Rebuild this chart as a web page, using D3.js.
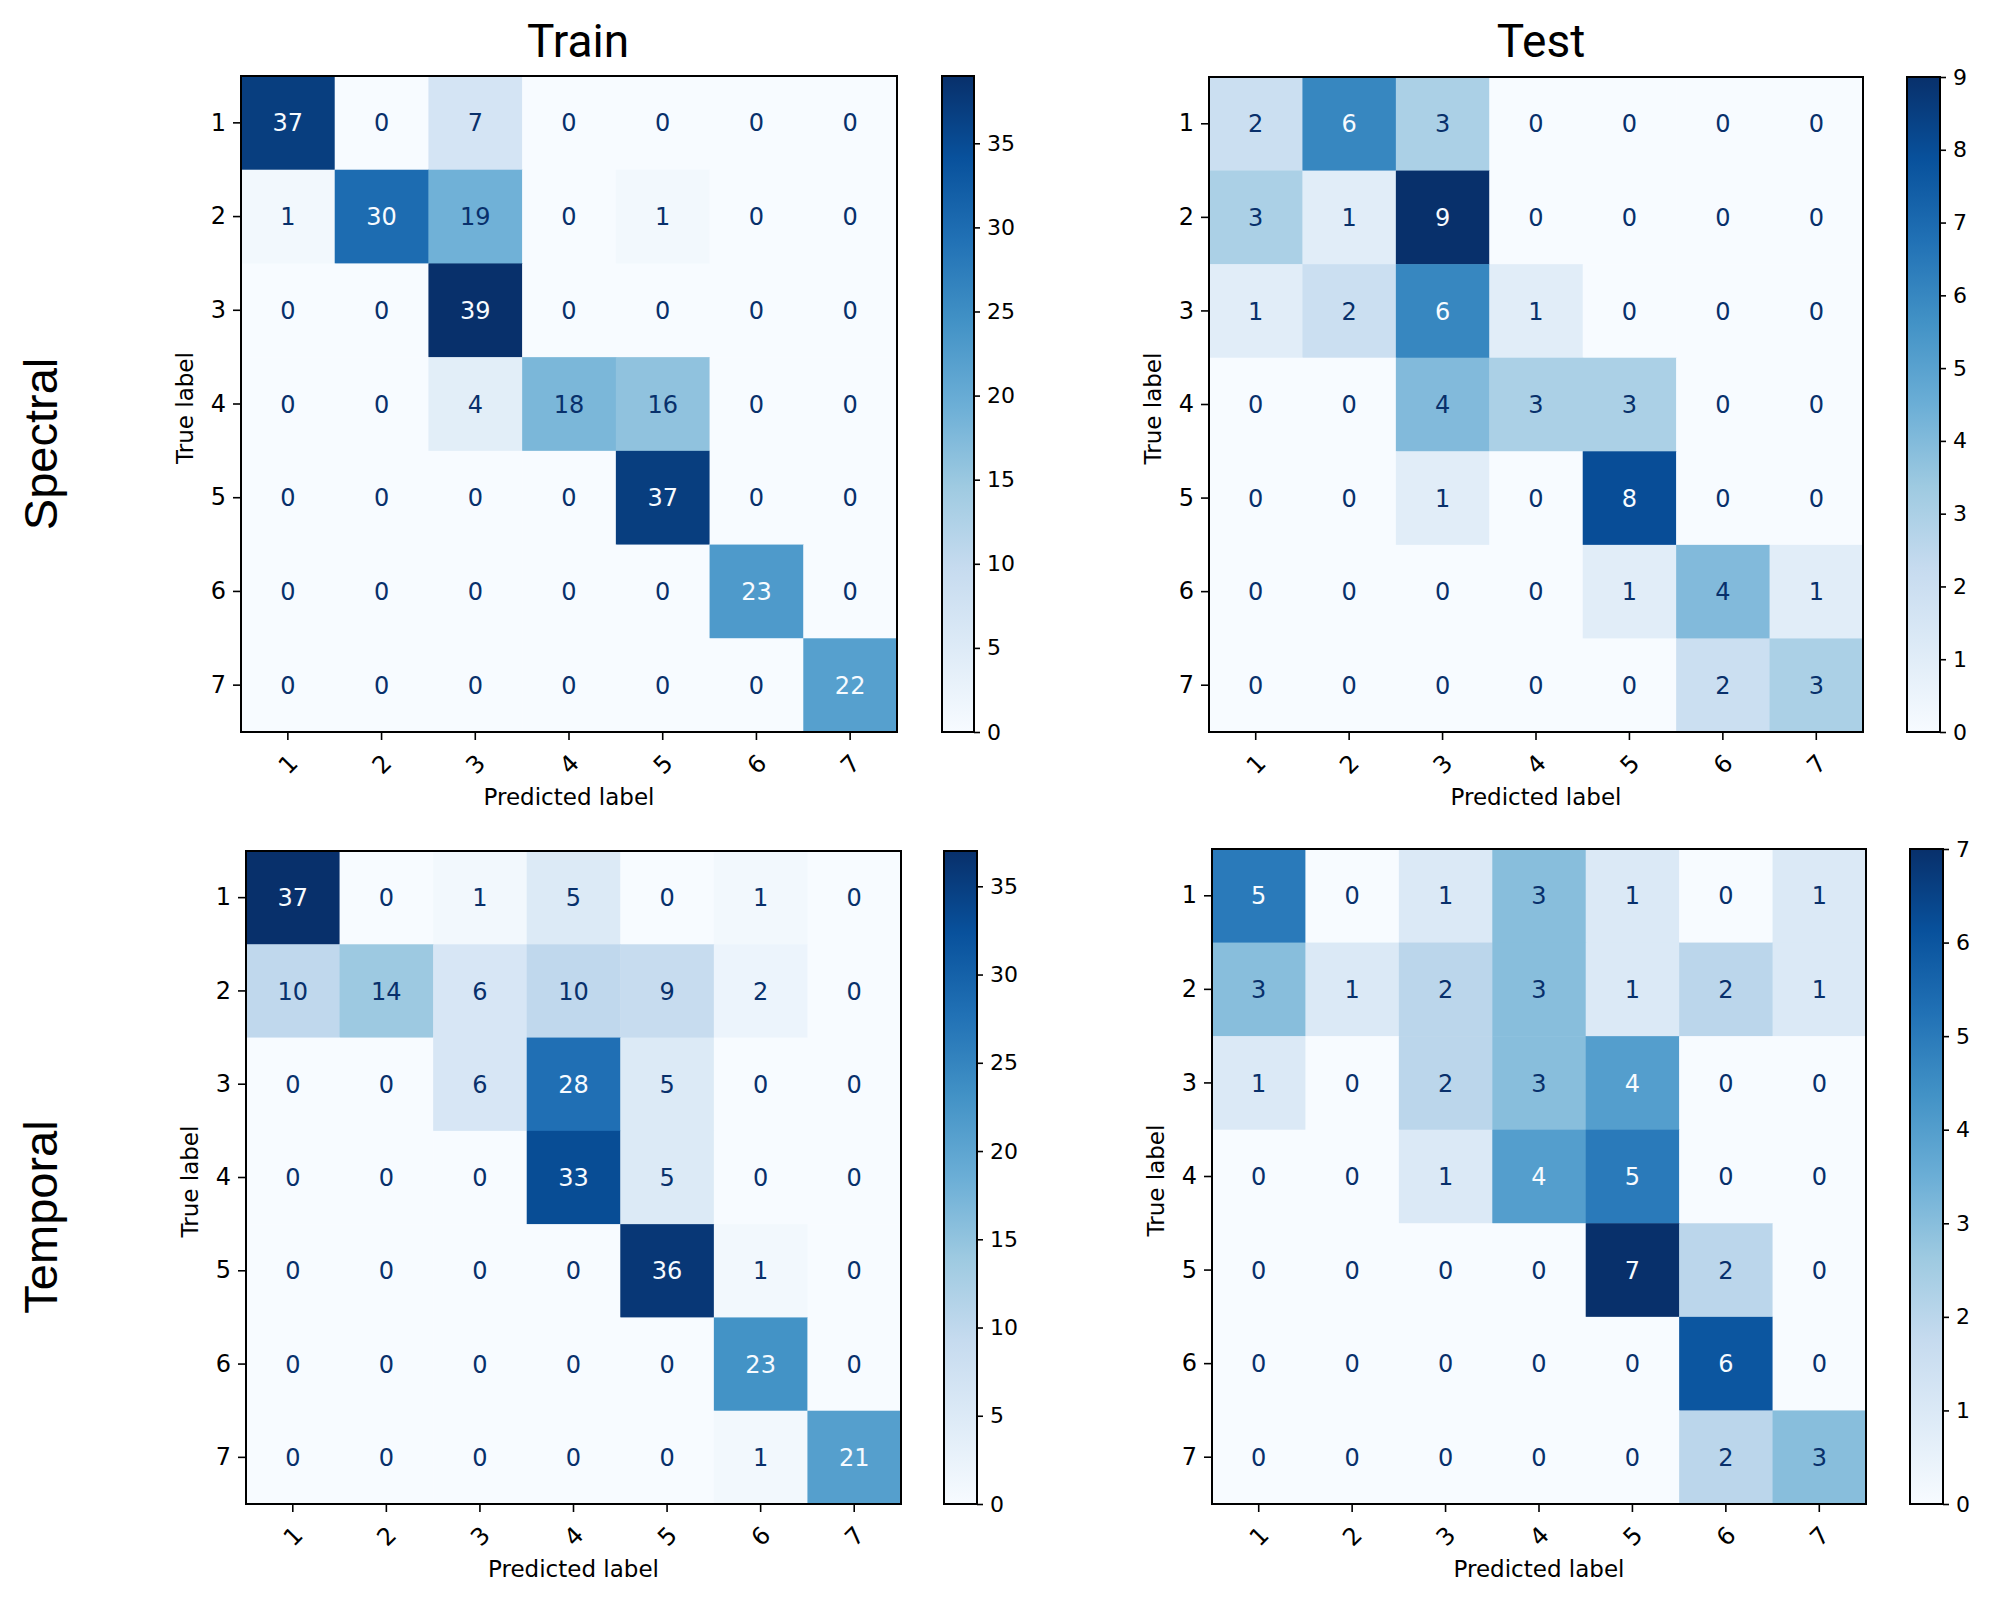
<!DOCTYPE html>
<html>
<head>
<meta charset="utf-8">
<script src="https://cdn.jsdelivr.net/npm/d3@7"></script>
<style>
  body { margin: 0; background: #fff; }
  svg { display: block; }
  .tick text { font-family: "DejaVu Sans", sans-serif; fill: #000; }
  .tick line { stroke: #000; stroke-width: 1.6; }
</style>
</head>
<body>
<svg id="chart" width="2000" height="1604"></svg>
<script>
// class labels shared by every matrix
var classLabels = ["1", "2", "3", "4", "5", "6", "7"];

// confusion matrices, rows = true label, columns = predicted label
var trainSpectral = [
  [37, 0, 7, 0, 0, 0, 0],
  [1, 30, 19, 0, 1, 0, 0],
  [0, 0, 39, 0, 0, 0, 0],
  [0, 0, 4, 18, 16, 0, 0],
  [0, 0, 0, 0, 37, 0, 0],
  [0, 0, 0, 0, 0, 23, 0],
  [0, 0, 0, 0, 0, 0, 22]
];
var testSpectral = [
  [2, 6, 3, 0, 0, 0, 0],
  [3, 1, 9, 0, 0, 0, 0],
  [1, 2, 6, 1, 0, 0, 0],
  [0, 0, 4, 3, 3, 0, 0],
  [0, 0, 1, 0, 8, 0, 0],
  [0, 0, 0, 0, 1, 4, 1],
  [0, 0, 0, 0, 0, 2, 3]
];
var trainTemporal = [
  [37, 0, 1, 5, 0, 1, 0],
  [10, 14, 6, 10, 9, 2, 0],
  [0, 0, 6, 28, 5, 0, 0],
  [0, 0, 0, 33, 5, 0, 0],
  [0, 0, 0, 0, 36, 1, 0],
  [0, 0, 0, 0, 0, 23, 0],
  [0, 0, 0, 0, 0, 1, 21]
];
var testTemporal = [
  [5, 0, 1, 3, 1, 0, 1],
  [3, 1, 2, 3, 1, 2, 1],
  [1, 0, 2, 3, 4, 0, 0],
  [0, 0, 1, 4, 5, 0, 0],
  [0, 0, 0, 0, 7, 2, 0],
  [0, 0, 0, 0, 0, 6, 0],
  [0, 0, 0, 0, 0, 2, 3]
];

// colorbar tick labels
var trainSpectralTicks = [0, 5, 10, 15, 20, 25, 30, 35];
var testSpectralTicks = [0, 1, 2, 3, 4, 5, 6, 7, 8, 9];
var trainTemporalTicks = [0, 5, 10, 15, 20, 25, 30, 35];
var testTemporalTicks = [0, 1, 2, 3, 4, 5, 6, 7];

var columnTitles = ["Train", "Test"];
var rowTitles = ["Spectral", "Temporal"];

var svg = d3.select("#chart");

// matplotlib "Blues" = linear ramp through the 9 colorbrewer stops
var blues = d3.schemeBlues[9];
var bluesRamp = d3.scaleLinear()
    .domain(d3.range(9).map(function (i) { return i / 8; }))
    .range(blues);

var panels = [
  {data: trainSpectral, ticks: trainSpectralTicks, x0: 241, x1: 897, y0: 76, y1: 732, cb: 942, cbw: 32},
  {data: testSpectral, ticks: testSpectralTicks, x0: 1209, x1: 1863, y0: 77, y1: 732, cb: 1907, cbw: 33},
  {data: trainTemporal, ticks: trainTemporalTicks, x0: 246, x1: 901, y0: 851, y1: 1504, cb: 944, cbw: 33},
  {data: testTemporal, ticks: testTemporalTicks, x0: 1212, x1: 1866, y0: 849, y1: 1504, cb: 1910, cbw: 33}
];

panels.forEach(function (p, pi) {
  var flat = d3.merge(p.data);
  var vmax = d3.max(flat), vmin = d3.min(flat);
  var thresh = (vmax + vmin) / 2;
  var color = function (v) { return bluesRamp((v - vmin) / (vmax - vmin)); };

  var x = d3.scaleBand().domain(classLabels).range([p.x0, p.x1]);
  var y = d3.scaleBand().domain(classLabels).range([p.y0, p.y1]);

  var cells = [];
  p.data.forEach(function (row, r) {
    row.forEach(function (v, c) {
      cells.push({t: classLabels[r], p: classLabels[c], v: v});
    });
  });

  var g = svg.append("g").attr("class", "panel");

  g.selectAll("rect.cell")
    .data(cells)
    .enter().append("rect")
    .attr("class", "cell")
    .attr("x", function (d) { return x(d.p); })
    .attr("y", function (d) { return y(d.t); })
    .attr("width", x.bandwidth() + 0.5)
    .attr("height", y.bandwidth() + 0.5)
    .attr("fill", function (d) { return color(d.v); });

  g.selectAll("text.val")
    .data(cells)
    .enter().append("text")
    .attr("class", "val")
    .attr("x", function (d) { return x(d.p) + x.bandwidth() / 2; })
    .attr("y", function (d) { return y(d.t) + y.bandwidth() / 2; })
    .attr("dy", "0.36em")
    .attr("text-anchor", "middle")
    .style("font-family", "DejaVu Sans, sans-serif")
    .style("font-size", "24px")
    .attr("fill", function (d) { return d.v > thresh ? blues[0] : blues[8]; })
    .text(function (d) { return d.v; });

  // frame
  g.append("rect")
    .attr("x", p.x0).attr("y", p.y0)
    .attr("width", p.x1 - p.x0).attr("height", p.y1 - p.y0)
    .attr("fill", "none").attr("stroke", "#000").attr("stroke-width", 2);

  // axes
  var ya = g.append("g")
    .attr("transform", "translate(" + p.x0 + ",0)")
    .call(d3.axisLeft(y).tickSize(8).tickPadding(7).tickSizeOuter(0));
  ya.select(".domain").remove();
  ya.selectAll("text").style("font-size", "24px");

  var xa = g.append("g")
    .attr("transform", "translate(0," + p.y1 + ")")
    .call(d3.axisBottom(x).tickSize(8).tickSizeOuter(0));
  xa.select(".domain").remove();
  xa.selectAll("text")
    .style("font-size", "24px")
    .attr("y", 0).attr("dy", "0.36em")
    .attr("text-anchor", "middle")
    .attr("transform", "translate(0,32) rotate(-45)");

  g.append("text")
    .attr("x", (p.x0 + p.x1) / 2)
    .attr("y", p.y1 + 73)
    .attr("text-anchor", "middle")
    .style("font-family", "DejaVu Sans, sans-serif")
    .style("font-size", "23px")
    .text("Predicted label");

  g.append("text")
    .attr("transform", "translate(" + (p.x0 - 48) + "," + ((p.y0 + p.y1) / 2 + 4) + ") rotate(-90)")
    .attr("text-anchor", "middle")
    .style("font-family", "DejaVu Sans, sans-serif")
    .style("font-size", "23px")
    .text("True label");

  // colorbar
  var gradId = "grad" + pi;
  var grad = svg.append("defs").append("linearGradient")
    .attr("id", gradId)
    .attr("x1", 0).attr("y1", 1).attr("x2", 0).attr("y2", 0);
  blues.forEach(function (c, i) {
    grad.append("stop").attr("offset", i / 8).attr("stop-color", c);
  });

  var cy = d3.scaleLinear().domain([vmin, vmax]).range([p.y1, p.y0]);
  g.append("rect")
    .attr("x", p.cb).attr("y", p.y0)
    .attr("width", p.cbw).attr("height", p.y1 - p.y0)
    .attr("fill", "url(#" + gradId + ")")
    .attr("stroke", "#000").attr("stroke-width", 2);

  var ca = g.append("g")
    .attr("transform", "translate(" + (p.cb + p.cbw) + ",0)")
    .call(d3.axisRight(cy).tickValues(p.ticks).tickFormat(d3.format("d"))
      .tickSize(6).tickPadding(7).tickSizeOuter(0));
  ca.select(".domain").remove();
  ca.selectAll("text").style("font-size", "22px");
});

// column titles
var titleX = [578, 1541];
svg.selectAll("text.coltitle")
  .data(columnTitles)
  .enter().append("text")
  .attr("class", "coltitle")
  .attr("x", function (d, i) { return titleX[i]; })
  .attr("y", 57)
  .attr("text-anchor", "middle")
  .style("font-family", "Roboto, sans-serif")
  .style("font-size", "46px")
  .text(function (d) { return d; });

// row titles
var rowY = [444, 1217];
svg.selectAll("text.rowtitle")
  .data(rowTitles)
  .enter().append("text")
  .attr("class", "rowtitle")
  .attr("transform", function (d, i) { return "translate(57," + rowY[i] + ") rotate(-90)"; })
  .attr("text-anchor", "middle")
  .style("font-family", "Liberation Sans, Arial, sans-serif")
  .style("font-size", "47px")
  .text(function (d) { return d; });
</script>
</body>
</html>
